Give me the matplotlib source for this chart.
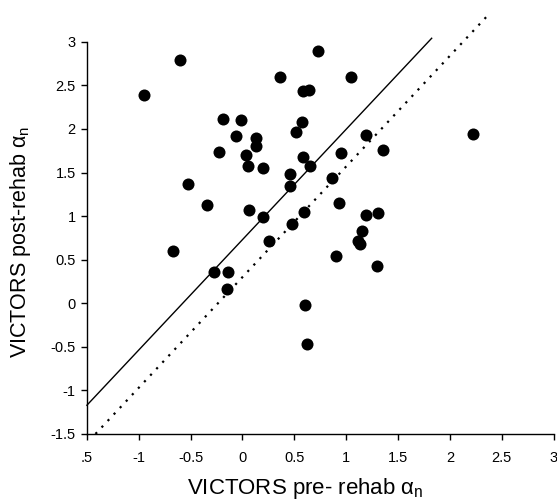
import matplotlib
matplotlib.use("Agg")
import matplotlib.pyplot as plt
import numpy as np

plt.rcParams['font.family'] = ['Liberation Sans', 'DejaVu Sans']

# pre-rehab (x) and post-rehab (y) alpha_n values
pre = [-0.95, -0.60, -0.19, -0.01, -0.06, -0.23, 0.13, 0.13, 0.03, 0.05,
       0.20, 0.73, 0.36, 1.05, 0.58, 0.64, 0.57, 0.52, 0.58, 0.65,
       0.95, 0.46, 0.86, 1.19, 1.35, 2.22, -0.53, -0.34, -0.67, -0.27,
       -0.14, -0.15, 0.46, 0.06, 0.20, 0.59, 0.93, 0.48, 0.26, 0.90,
       1.19, 1.31, 1.15, 1.11, 1.13, 1.30, 0.60, 0.62]
post = [2.39, 2.79, 2.11, 2.10, 1.92, 1.73, 1.90, 1.80, 1.70, 1.57,
        1.55, 2.89, 2.60, 2.60, 2.44, 2.45, 2.08, 1.97, 1.68, 1.58,
        1.72, 1.48, 1.44, 1.93, 1.76, 1.94, 1.37, 1.13, 0.60, 0.36,
        0.36, 0.16, 1.34, 1.07, 0.99, 1.05, 1.15, 0.91, 0.71, 0.54,
        1.01, 1.04, 0.83, 0.72, 0.68, 0.43, -0.02, -0.47]

# two straight lines (intercept, slope, x extent)
solid_line = (0.73, 1.267, [-1.5, 1.824])
dotted_line = (0.30, 1.27, [-1.417, 2.372])

ticks = [-1.5, -1, -0.5, 0, 0.5, 1, 1.5, 2, 2.5, 3]
xticklabels = ['.5', '-1', '-0.5', '0', '0.5', '1', '1.5', '2', '2.5', '3']
yticklabels = ['-1.5', '-1', '-0.5', '0', '0.5', '1', '1.5', '2', '2.5', '3']

fig = plt.figure(figsize=(5.57, 5.04), dpi=100)
ax = fig.add_axes([0.156, 0.139, 0.838, 0.778])

ax.scatter(pre, post, s=75, color='black', zorder=3, linewidths=0)

for (b, m, xs), ls in [(solid_line, '-'), (dotted_line, (0, (1, 3)))]:
    xs = np.array(xs)
    ax.plot(xs, b + m * xs, color='black', linestyle=ls,
            linewidth=1.0 if ls == '-' else 1.6, clip_on=False)

ax.set_xlim(-1.5, 3)
ax.set_ylim(-1.5, 3)
ax.set_xticks(ticks)
ax.set_xticklabels(xticklabels)
ax.set_yticks(ticks)
ax.set_yticklabels(yticklabels)
ax.tick_params(labelsize=10.5, direction='out', length=4, width=1)
ax.tick_params(axis='x', pad=8)
ax.tick_params(axis='y', pad=4)

for s in ['top', 'right']:
    ax.spines[s].set_visible(False)
for s in ['left', 'bottom']:
    ax.spines[s].set_linewidth(1)

ax.set_xlabel('VICTORS pre- rehab α$_\\mathregular{n}$', fontsize=16)
ax.set_ylabel('VICTORS post-rehab α$_\\mathregular{n}$', fontsize=15.5)
ax.xaxis.set_label_coords(0.469, -0.108)
ax.yaxis.set_label_coords(-0.116, 0.49)

plt.savefig('out.png', dpi=100)
